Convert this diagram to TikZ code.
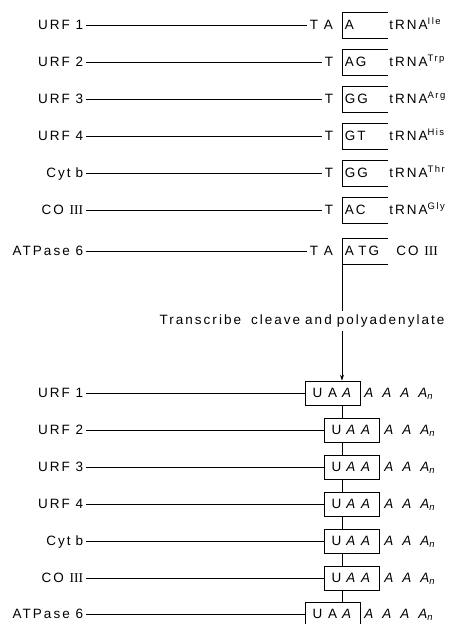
\documentclass[tikz,border=0pt]{standalone}
\usepackage{fontspec}
\setmainfont{Liberation Sans}[LetterSpace=15]
\newfontfamily\romfont{Liberation Serif}
\usetikzlibrary{arrows.meta}

\tikzset{
  gene/.style={anchor=east, inner xsep=2.5pt, inner ysep=0pt, text height=9.5pt, text depth=0pt},
  stopcod/.style={anchor=west, inner xsep=2.5pt, inner ysep=0pt, text height=9.5pt, text depth=0pt},
  codon/.style={anchor=west, inner xsep=2.5pt, inner ysep=0pt, minimum height=25pt,
    text width=40pt, align=left, text height=9.5pt, text depth=0pt},
  trna/.style={anchor=west, inner sep=0pt, text height=9.5pt, text depth=0pt},
  uaa/.style={draw, anchor=west, inner xsep=2pt, inner ysep=0pt, minimum height=24pt,
    minimum width=55pt, text height=9.5pt, text depth=0pt},
  tail/.style={anchor=west, inner sep=0pt, text height=9.5pt, text depth=0pt},
}
\newcommand{\bracket}[1]{\draw (#1.north east) -- (#1.north west) -- (#1.south west) -- (#1.south east);}
\newcommand{\Rom}{{\romfont III}}
\newcommand{\gap}{\hspace{5pt}}
\newcommand{\wgap}{\hspace{9pt}}

\begin{document}
\begin{tikzpicture}[x=1pt, y=-1pt, font=\fontsize{13.5}{15}\selectfont, line width=0.8pt]
    \useasboundingbox (0,0) rectangle (452,624);

    % genes before the cut
    \node[gene] (g1) at (86,25)  {URF 1};
    \node[gene] (g2) at (86,62)  {URF 2};
    \node[gene] (g3) at (86,99)  {URF 3};
    \node[gene] (g4) at (86,136) {URF 4};
    \node[gene] (g5) at (86,173) {Cyt\gap b};
    \node[gene] (g6) at (86,210) {CO \Rom};
    \node[gene] (g7) at (86,251) {ATPase 6};

    \node[stopcod] (s1) at (307,25)  {T A};
    \node[stopcod] (s2) at (322,62)  {T};
    \node[stopcod] (s3) at (322,99)  {T};
    \node[stopcod] (s4) at (322,136) {T};
    \node[stopcod] (s5) at (322,173) {T};
    \node[stopcod] (s6) at (322,210) {T};
    \node[stopcod] (s7) at (307,251) {T A};

    \node[codon] (b1) at (342,25)  {A};
    \node[codon] (b2) at (342,62)  {AG};
    \node[codon] (b3) at (342,99)  {GG};
    \node[codon] (b4) at (342,136) {GT};
    \node[codon] (b5) at (342,173) {GG};
    \node[codon] (b6) at (342,210) {AC};
    \node[codon] (b7) at (342,251) {A TG};

    \node[trna] (r1) at (389,25)  {tRNA\textsuperscript{Ile}};
    \node[trna] (r2) at (389,62)  {tRNA\textsuperscript{Trp}};
    \node[trna] (r3) at (389,99)  {tRNA\textsuperscript{Arg}};
    \node[trna] (r4) at (389,136) {tRNA\textsuperscript{His}};
    \node[trna] (r5) at (389,173) {tRNA\textsuperscript{Thr}};
    \node[trna] (r6) at (389,210) {tRNA\textsuperscript{Gly}};
    \node[trna] (r7) at (396,251) {CO \Rom};

    \path[-] (g1.east) edge (s1.west);
    \path[-] (g2.east) edge (s2.west);
    \path[-] (g3.east) edge (s3.west);
    \path[-] (g4.east) edge (s4.west);
    \path[-] (g5.east) edge (s5.west);
    \path[-] (g6.east) edge (s6.west);
    \path[-] (g7.east) edge (s7.west);

    \bracket{b1} \bracket{b2} \bracket{b3} \bracket{b4}
    \bracket{b5} \bracket{b6} \bracket{b7}

    \node (tx) at (302,321) {Transcribe\hspace{10pt}cleave\hspace{5pt}and\hspace{5pt}polyadenylate};
    \coordinate (cut) at (b7.south west);

    % mature messengers
    \node[gene] (m1) at (86,393) {URF 1};
    \node[gene] (m2) at (86,430) {URF 2};
    \node[gene] (m3) at (86,467) {URF 3};
    \node[gene] (m4) at (86,504) {URF 4};
    \node[gene] (m5) at (86,541) {Cyt\gap b};
    \node[gene] (m6) at (86,578) {CO \Rom};
    \node[gene] (m7) at (86,614) {ATPase 6};

    \node[uaa] (u1) at (305,393) {U A\gap\textit{A}};
    \node[uaa] (u2) at (324,430) {U\gap\textit{A A}};
    \node[uaa] (u3) at (324,467) {U\gap\textit{A A}};
    \node[uaa] (u4) at (324,504) {U\gap\textit{A A}};
    \node[uaa] (u5) at (324,541) {U\gap\textit{A A}};
    \node[uaa] (u6) at (324,578) {U\gap\textit{A A}};
    \node[uaa] (u7) at (305,614) {U A\gap\textit{A}};

    \node[tail] (a1) at (364,393) {\textit{A\wgap A\wgap A\wgap A\textsubscript{n}}};
    \node[tail] (a2) at (384,430) {\textit{A\wgap A\wgap A\textsubscript{n}}};
    \node[tail] (a3) at (384,467) {\textit{A\wgap A\wgap A\textsubscript{n}}};
    \node[tail] (a4) at (384,504) {\textit{A\wgap A\wgap A\textsubscript{n}}};
    \node[tail] (a5) at (384,541) {\textit{A\wgap A\wgap A\textsubscript{n}}};
    \node[tail] (a6) at (384,578) {\textit{A\wgap A\wgap A\textsubscript{n}}};
    \node[tail] (a7) at (364,614) {\textit{A\wgap A\wgap A\wgap A\textsubscript{n}}};

    \path[-] (m1.east) edge (u1.west);
    \path[-] (m2.east) edge (u2.west);
    \path[-] (m3.east) edge (u3.west);
    \path[-] (m4.east) edge (u4.west);
    \path[-] (m5.east) edge (u5.west);
    \path[-] (m6.east) edge (u6.west);
    \path[-] (m7.east) edge (u7.west);

    % cleavage line
    \draw (cut) -- (cut |- tx.north);
    \draw[-{Stealth[length=6pt,width=4pt]}] (cut |- tx.south) -- (u1.north -| cut);
    \path[-] (u1.south -| cut) edge (u2.north -| cut);
    \path[-] (u2.south -| cut) edge (u3.north -| cut);
    \path[-] (u3.south -| cut) edge (u4.north -| cut);
    \path[-] (u4.south -| cut) edge (u5.north -| cut);
    \path[-] (u5.south -| cut) edge (u6.north -| cut);
    \path[-] (u6.south -| cut) edge (u7.north -| cut);

\end{tikzpicture}
\end{document}
